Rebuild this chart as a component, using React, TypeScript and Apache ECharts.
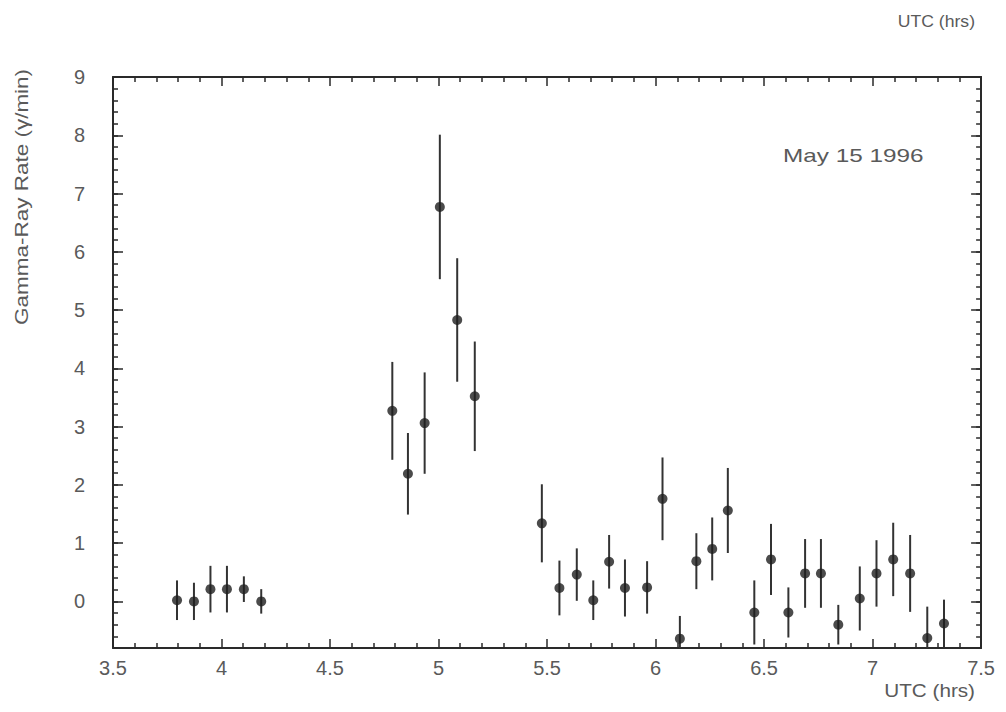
import React, { useEffect, useRef } from "react";
import * as echarts from "echarts";

const xValues = [
  3.795, 3.873, 3.949, 4.025, 4.103, 4.183,
  4.787, 4.859, 4.936, 5.006, 5.086, 5.167,
  5.476, 5.557, 5.637, 5.713, 5.786, 5.859, 5.961, 6.032, 6.112, 6.188, 6.261, 6.333,
  6.455, 6.532, 6.612, 6.689, 6.762, 6.842, 6.941, 7.018, 7.095, 7.173, 7.252, 7.329,
];
const rateValues = [
  0.02, 0.0, 0.21, 0.21, 0.21, 0.0,
  3.27, 2.19, 3.06, 6.77, 4.83, 3.52,
  1.34, 0.23, 0.46, 0.02, 0.68, 0.23, 0.24, 1.76, -0.64, 0.69, 0.9, 1.56,
  -0.19, 0.72, -0.19, 0.48, 0.48, -0.4, 0.05, 0.48, 0.72, 0.48, -0.63, -0.38,
];
const rateErrors = [
  0.34, 0.32, 0.4, 0.4, 0.22, 0.21,
  0.84, 0.7, 0.87, 1.24, 1.06, 0.94,
  0.67, 0.47, 0.45, 0.34, 0.46, 0.49, 0.45, 0.71, 0.39, 0.48, 0.54, 0.73,
  0.55, 0.61, 0.43, 0.59, 0.59, 0.34, 0.55, 0.57, 0.63, 0.66, 0.54, 0.41,
];
const yMajorTicks = [0, 1, 2, 3, 4, 5, 6, 7, 8, 9];

const FONT = "Liberation Sans";
const TXT = "#5a5a5a";
const FRAME = "#2a2a2a";

export default function App() {
  const ref = useRef<HTMLDivElement>(null);
  useEffect(() => {
    if (!ref.current) return;
    const chart = echarts.init(ref.current, undefined, { renderer: "svg" });
    const data = xValues.map((x, i) => [x, rateValues[i], rateErrors[i]]);
    const xCommon = {
      type: "value" as const,
      min: 3.5,
      max: 7.5,
      interval: 0.5,
      axisLine: { show: true, onZero: false, lineStyle: { color: FRAME, width: 2 } },
      axisTick: { show: true, inside: true, length: 9, lineStyle: { color: FRAME, width: 1.5 } },
      minorTick: { show: true, splitNumber: 5, length: 5, lineStyle: { color: FRAME, width: 1.5 } },
      splitLine: { show: false },
    };
    const yMinor = {
      type: "value" as const,
      min: -0.8,
      max: 9,
      interval: 0.2,
      axisLine: { show: true, onZero: false, lineStyle: { color: FRAME, width: 2 } },
      axisTick: { show: true, inside: true, length: 5, lineStyle: { color: FRAME, width: 1.5 } },
      splitLine: { show: false },
    };
    const yMajor = {
      type: "value" as const,
      min: -0.8,
      max: 9,
      axisLine: { show: false },
      axisTick: {
        show: true,
        inside: true,
        length: 10,
        customValues: yMajorTicks,
        lineStyle: { color: FRAME, width: 1.5 },
      },
      axisLabel: { show: false },
      splitLine: { show: false },
    };
    chart.setOption({
      animation: false,
      backgroundColor: "#ffffff",
      grid: { left: 105, right: 14, top: 69, bottom: 56 },
      xAxis: [
        {
          ...xCommon,
          position: "bottom",
          axisLabel: {
            show: true,
            color: TXT,
            fontFamily: FONT,
            fontSize: 20,
            margin: 10,
            formatter: (v: number) => String(v),
          },
        },
        { ...xCommon, position: "top", axisLabel: { show: false } },
      ],
      yAxis: [
        {
          ...yMinor,
          position: "left",
          axisLabel: {
            show: true,
            color: TXT,
            fontFamily: FONT,
            fontSize: 20,
            margin: 28,
            formatter: (v: number) =>
              Math.abs(v - Math.round(v)) < 1e-6 ? String(Math.round(v)) : "",
          },
        },
        { ...yMinor, position: "right", axisLabel: { show: false } },
        { ...yMajor, position: "left" },
        { ...yMajor, position: "right" },
      ],
      graphic: [
        {
          type: "text",
          x: 967,
          y: 6,
          scaleX: 1.1,
          style: {
            text: "UTC (hrs)",
            fill: TXT,
            font: `16px "${FONT}"`,
            align: "right",
            verticalAlign: "top",
          },
        },
        {
          type: "text",
          x: 967,
          y: 673,
          scaleX: 1.15,
          style: {
            text: "UTC (hrs)",
            fill: TXT,
            font: `18px "${FONT}"`,
            align: "right",
            verticalAlign: "top",
          },
        },
        {
          type: "text",
          x: 775,
          y: 139,
          scaleX: 1.35,
          style: {
            text: "May 15 1996",
            fill: TXT,
            font: `18px "${FONT}"`,
            align: "left",
            verticalAlign: "top",
          },
        },
        {
          type: "text",
          x: 5,
          y: 317,
          rotation: Math.PI / 2,
          scaleX: 1.25,
          style: {
            text: "Gamma-Ray Rate (γ/min)",
            fill: TXT,
            font: `18px "${FONT}"`,
            align: "left",
            verticalAlign: "top",
          },
        },
      ],
      series: [
        {
          type: "custom",
          xAxisIndex: 0,
          yAxisIndex: 0,
          clip: true,
          data,
          renderItem: (params: any, api: any) => {
            const x = api.value(0);
            const y = api.value(1);
            const e = api.value(2);
            const p1 = api.coord([x, y - e]);
            const p2 = api.coord([x, y + e]);
            return {
              type: "line",
              shape: { x1: p1[0], y1: p1[1], x2: p2[0], y2: p2[1] },
              style: { stroke: "#333333", lineWidth: 2 },
            };
          },
          z: 2,
        },
        {
          type: "scatter",
          xAxisIndex: 0,
          yAxisIndex: 0,
          clip: true,
          symbol: "circle",
          symbolSize: 10,
          itemStyle: { color: "#1e1e1e" },
          data: data.map((d) => [d[0], d[1]]),
          z: 3,
        },
      ],
    });
    return () => chart.dispose();
  }, []);
  return <div ref={ref} style={{ width: 990, height: 696 }} />;
}
